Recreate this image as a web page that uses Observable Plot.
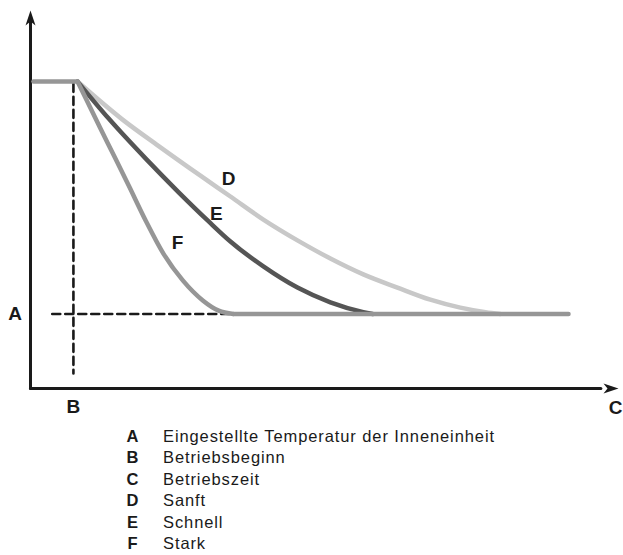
<!DOCTYPE html>
<html>
<head>
<meta charset="utf-8">
<script src="https://cdn.jsdelivr.net/npm/d3@7"></script>
<script src="https://cdn.jsdelivr.net/npm/@observablehq/plot@0.6"></script>
<style>
  body { margin: 0; background: #fff; font-family: "Liberation Sans", Arial, sans-serif; }
  #wrap { position: relative; width: 623px; height: 555px; }
  #legend { position: absolute; left: 0; top: 426px; font-size: 16.5px; line-height: 21.4px; color: #1a1a1a; }
  .row { position: relative; height: 21.4px; }
  .k { position: absolute; left: 122.5px; width: 20px; text-align: center; font-weight: bold; }
  .v { position: absolute; left: 163px; white-space: nowrap; letter-spacing: 0.9px; }
</style>
</head>
<body>
<div id="wrap"><div id="chart"></div><div id="legend"></div></div>
<script>
// Arbitrary units: time 0..100, temperature 0..100
const startLevel = 81.2;
const setpoint = 19.7;
const markTime = 7.3;       // B: dashed vertical marker
const preT = [0.5, 8.0];
const postT = [34.5, 91.5];

const sanftT = [8.0, 15.6, 22.1, 28.9, 34.0, 39.6, 45.4, 51.0, 56.6, 62.4, 68.0, 73.1, 77.4, 79.9];
const sanftY = [81.2, 71.2, 63.8, 56.3, 50.8, 44.7, 39.2, 34.4, 30.2, 26.7, 23.5, 21.4, 20.2, 19.7];

const schnellT = [8.0, 13.3, 19.6, 25.2, 30.3, 34.0, 39.6, 45.4, 51.0, 56.6, 58.2];
const schnellY = [81.2, 71.4, 60.8, 51.9, 44.2, 38.9, 32.3, 26.7, 22.8, 20.2, 19.7];

const starkT = [8.0, 11.9, 14.1, 16.7, 19.6, 22.6, 25.9, 29.3, 32.0, 34.5];
const starkY = [81.2, 68.8, 61.9, 53.7, 44.4, 35.7, 28.6, 23.3, 20.6, 19.7];

const curveLabels = ["D", "E", "F"];
const curveLabelT = [33.7, 31.6, 25.0];
const curveLabelY = [55.5, 46.3, 38.6];

const legendKeys = ["A", "B", "C", "D", "E", "F"];
const legendTexts = ["Eingestellte Temperatur der Inneneinheit", "Betriebsbeginn", "Betriebszeit", "Sanft", "Schnell", "Stark"];

const colD = "#c8c8c8", colE = "#555555", colF = "#969696", ink = "#1a1a1a";

const zip = (xs, ys) => xs.map((x, i) => ({t: x, v: ys[i]}));

const arrowUp = {draw(ctx) { ctx.moveTo(0, 0); ctx.lineTo(-5, 15); ctx.lineTo(0, 11); ctx.lineTo(5, 15); ctx.closePath(); }};
const arrowRight = {draw(ctx) { ctx.moveTo(0, 0); ctx.lineTo(-15, -5); ctx.lineTo(-11, 0); ctx.lineTo(-15, 5); ctx.closePath(); }};

const font = "Liberation Sans, Arial, sans-serif";
const lbl = {fontSize: 19, fontWeight: "bold", fill: ink, fontFamily: font, text: d => d};

const chart = Plot.plot({
  width: 623,
  height: 420,
  x: {domain: [0, 100], range: [30, 618], axis: null},
  y: {domain: [0, 100], range: [388, 10], axis: null},
  marks: [
    // axes
    Plot.line([{t: 0, v: 0}, {t: 0, v: 97}], {x: "t", y: "v", stroke: ink, strokeWidth: 3}),
    Plot.line([{t: 0, v: 0}, {t: 97, v: 0}], {x: "t", y: "v", stroke: ink, strokeWidth: 3}),
    Plot.dot([{t: 0, v: 100}], {x: "t", y: "v", symbol: arrowUp, fill: ink, stroke: "none"}),
    Plot.dot([{t: 100, v: 0}], {x: "t", y: "v", symbol: arrowRight, fill: ink, stroke: "none"}),
    // dashed guides
    Plot.line([{t: markTime, v: startLevel - 0.6}, {t: markTime, v: 4.0}], {x: "t", y: "v", stroke: ink, strokeWidth: 2.6, strokeDasharray: "8,5"}),
    Plot.line([{t: 3.7, v: setpoint}, {t: postT[0], v: setpoint}], {x: "t", y: "v", stroke: ink, strokeWidth: 2.6, strokeDasharray: "8,5"}),
    // curves
    Plot.line(zip(sanftT, sanftY), {x: "t", y: "v", stroke: colD, strokeWidth: 4.5, curve: "monotone-x"}),
    Plot.line(zip(schnellT, schnellY), {x: "t", y: "v", stroke: colE, strokeWidth: 4.5, curve: "monotone-x"}),
    Plot.line(zip(starkT, starkY), {x: "t", y: "v", stroke: colF, strokeWidth: 4.5, curve: "monotone-x"}),
    Plot.line(preT.map(t => ({t, v: startLevel})), {x: "t", y: "v", stroke: colF, strokeWidth: 4.5}),
    Plot.line(postT.map(t => ({t, v: setpoint})), {x: "t", y: "v", stroke: colF, strokeWidth: 4.5}),
    // letter labels
    Plot.text(curveLabels, {...lbl, x: (d, i) => curveLabelT[i], y: (d, i) => curveLabelY[i]}),
    Plot.text(["A"], {...lbl, x: -2.6, y: setpoint}),
    Plot.text(["B"], {...lbl, x: markTime, y: -4.9}),
    Plot.text(["C"], {...lbl, x: 99.5, y: -5.1})
  ]
});
document.getElementById("chart").appendChild(chart);

const legend = d3.select("#legend");
legendKeys.forEach((k, i) => {
  const row = legend.append("div").attr("class", "row");
  row.append("span").attr("class", "k").text(k);
  row.append("span").attr("class", "v").text(legendTexts[i]);
});
</script>
</body>
</html>
